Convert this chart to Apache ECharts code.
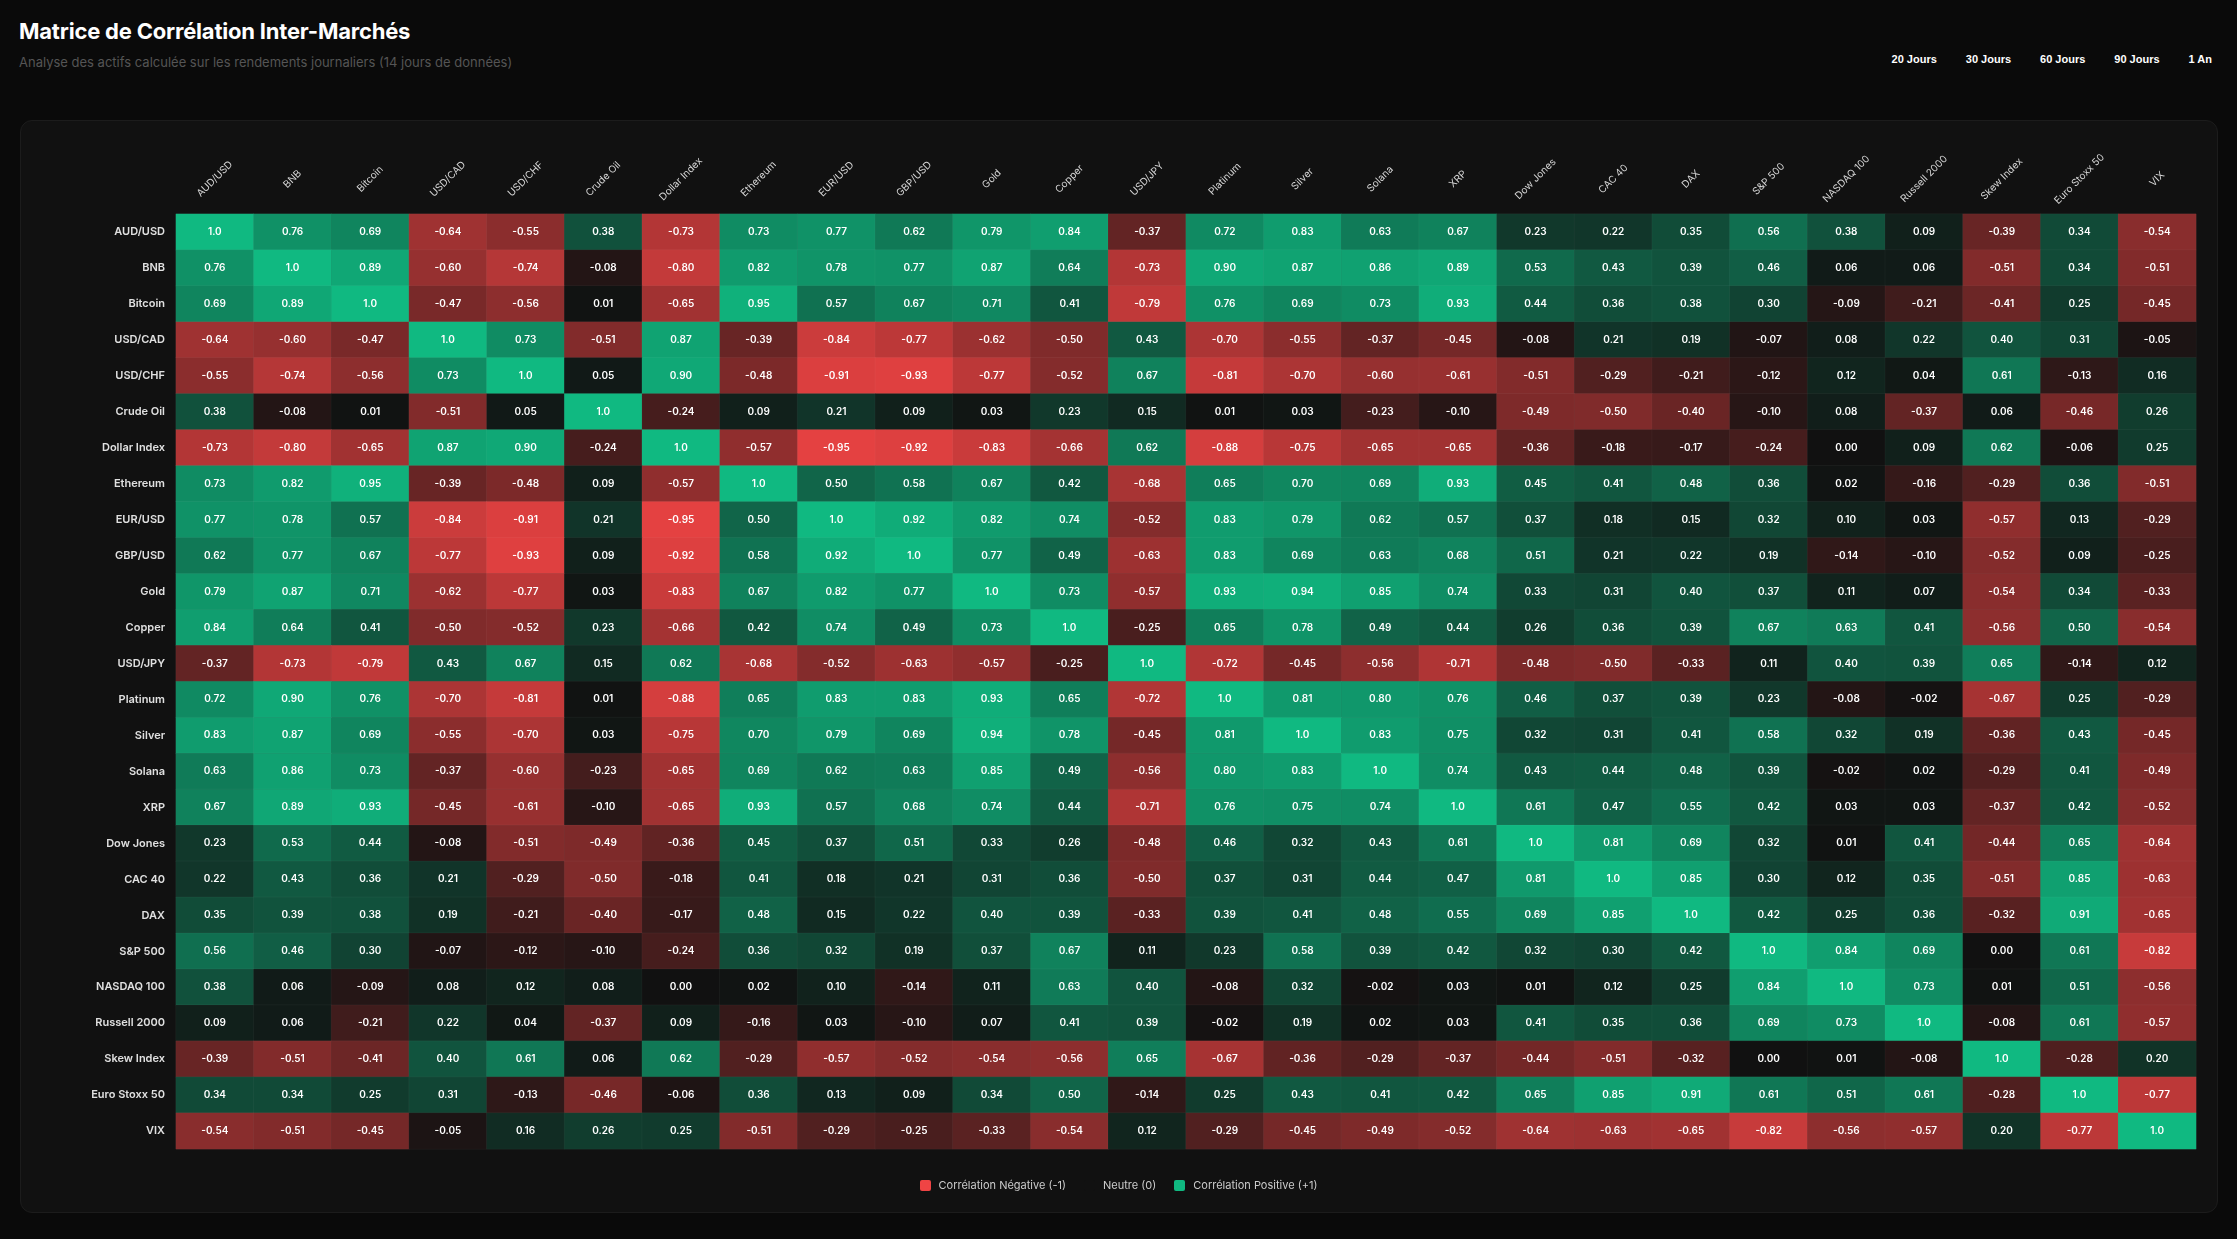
<!DOCTYPE html>
<html lang="fr">
<head>
<meta charset="utf-8">
<title>Matrice de Corrélation Inter-Marchés</title>
<script src="https://cdn.jsdelivr.net/npm/echarts@6/dist/echarts.min.js"></script>
<style>
  html, body { margin: 0; padding: 0; background: #0a0a0a; width: 2237px; height: 1239px; overflow: hidden; font-family: Inter, "Noto Sans", sans-serif; }
  .title { position: absolute; left: 19px; top: 18px; color: #fff; font-size: 22px; font-weight: 700; letter-spacing: -0.2px; }
  .subtitle { position: absolute; left: 19px; top: 54px; color: #555; font-size: 13px; }
  .periods { position: absolute; right: 11px; top: 50px; display: flex; }
  .periods span { color: #fff; font-family: "Liberation Sans", Arial, sans-serif; font-weight: 700; font-size: 11px; padding: 3px 14px 3px 15px; }
  .panel { position: absolute; left: 20px; top: 120px; width: 2196px; height: 1091px; background: #111111; border: 1px solid #1c1c1c; border-radius: 12px; }
  #chart { position: absolute; left: 0; top: 0; width: 2237px; height: 1239px; }
  .legend { position: absolute; left: 0; width: 2237px; top: 1178px; display: flex; justify-content: center; align-items: center; font-size: 11px; color: #ccc; }
  .legend .item { display: flex; align-items: center; margin: 0 9px; }
  .legend .sq { width: 11px; height: 11px; border-radius: 2px; margin-right: 8px; }
</style>
</head>
<body>
<div class="title">Matrice de Corrélation Inter-Marchés</div>
<div class="subtitle">Analyse des actifs calculée sur les rendements journaliers (14 jours de données)</div>
<div class="periods"><span>20 Jours</span><span>30 Jours</span><span>60 Jours</span><span>90 Jours</span><span>1 An</span></div>
<div class="panel"></div>
<div id="chart"></div>
<div class="legend">
  <div class="item"><div class="sq" style="background:#ef4444"></div>Corrélation Négative (-1)</div>
  <div class="item"><div class="sq" style="background:#111111"></div>Neutre (0)</div>
  <div class="item"><div class="sq" style="background:#10b981"></div>Corrélation Positive (+1)</div>
</div>
<script>
const assets = ["AUD/USD", "BNB", "Bitcoin", "USD/CAD", "USD/CHF", "Crude Oil", "Dollar Index", "Ethereum",
  "EUR/USD", "GBP/USD", "Gold", "Copper", "USD/JPY", "Platinum", "Silver", "Solana", "XRP", "Dow Jones",
  "CAC 40", "DAX", "S&P 500", "NASDAQ 100", "Russell 2000", "Skew Index", "Euro Stoxx 50", "VIX"];

// une ligne par actif, même ordre que assets
const matrix = [
  [1.0, 0.76, 0.69, -0.64, -0.55, 0.38, -0.73, 0.73, 0.77, 0.62, 0.79, 0.84, -0.37, 0.72, 0.83, 0.63, 0.67, 0.23, 0.22, 0.35, 0.56, 0.38, 0.09, -0.39, 0.34, -0.54],
  [0.76, 1.0, 0.89, -0.60, -0.74, -0.08, -0.80, 0.82, 0.78, 0.77, 0.87, 0.64, -0.73, 0.90, 0.87, 0.86, 0.89, 0.53, 0.43, 0.39, 0.46, 0.06, 0.06, -0.51, 0.34, -0.51],
  [0.69, 0.89, 1.0, -0.47, -0.56, 0.01, -0.65, 0.95, 0.57, 0.67, 0.71, 0.41, -0.79, 0.76, 0.69, 0.73, 0.93, 0.44, 0.36, 0.38, 0.30, -0.09, -0.21, -0.41, 0.25, -0.45],
  [-0.64, -0.60, -0.47, 1.0, 0.73, -0.51, 0.87, -0.39, -0.84, -0.77, -0.62, -0.50, 0.43, -0.70, -0.55, -0.37, -0.45, -0.08, 0.21, 0.19, -0.07, 0.08, 0.22, 0.40, 0.31, -0.05],
  [-0.55, -0.74, -0.56, 0.73, 1.0, 0.05, 0.90, -0.48, -0.91, -0.93, -0.77, -0.52, 0.67, -0.81, -0.70, -0.60, -0.61, -0.51, -0.29, -0.21, -0.12, 0.12, 0.04, 0.61, -0.13, 0.16],
  [0.38, -0.08, 0.01, -0.51, 0.05, 1.0, -0.24, 0.09, 0.21, 0.09, 0.03, 0.23, 0.15, 0.01, 0.03, -0.23, -0.10, -0.49, -0.50, -0.40, -0.10, 0.08, -0.37, 0.06, -0.46, 0.26],
  [-0.73, -0.80, -0.65, 0.87, 0.90, -0.24, 1.0, -0.57, -0.95, -0.92, -0.83, -0.66, 0.62, -0.88, -0.75, -0.65, -0.65, -0.36, -0.18, -0.17, -0.24, 0.00, 0.09, 0.62, -0.06, 0.25],
  [0.73, 0.82, 0.95, -0.39, -0.48, 0.09, -0.57, 1.0, 0.50, 0.58, 0.67, 0.42, -0.68, 0.65, 0.70, 0.69, 0.93, 0.45, 0.41, 0.48, 0.36, 0.02, -0.16, -0.29, 0.36, -0.51],
  [0.77, 0.78, 0.57, -0.84, -0.91, 0.21, -0.95, 0.50, 1.0, 0.92, 0.82, 0.74, -0.52, 0.83, 0.79, 0.62, 0.57, 0.37, 0.18, 0.15, 0.32, 0.10, 0.03, -0.57, 0.13, -0.29],
  [0.62, 0.77, 0.67, -0.77, -0.93, 0.09, -0.92, 0.58, 0.92, 1.0, 0.77, 0.49, -0.63, 0.83, 0.69, 0.63, 0.68, 0.51, 0.21, 0.22, 0.19, -0.14, -0.10, -0.52, 0.09, -0.25],
  [0.79, 0.87, 0.71, -0.62, -0.77, 0.03, -0.83, 0.67, 0.82, 0.77, 1.0, 0.73, -0.57, 0.93, 0.94, 0.85, 0.74, 0.33, 0.31, 0.40, 0.37, 0.11, 0.07, -0.54, 0.34, -0.33],
  [0.84, 0.64, 0.41, -0.50, -0.52, 0.23, -0.66, 0.42, 0.74, 0.49, 0.73, 1.0, -0.25, 0.65, 0.78, 0.49, 0.44, 0.26, 0.36, 0.39, 0.67, 0.63, 0.41, -0.56, 0.50, -0.54],
  [-0.37, -0.73, -0.79, 0.43, 0.67, 0.15, 0.62, -0.68, -0.52, -0.63, -0.57, -0.25, 1.0, -0.72, -0.45, -0.56, -0.71, -0.48, -0.50, -0.33, 0.11, 0.40, 0.39, 0.65, -0.14, 0.12],
  [0.72, 0.90, 0.76, -0.70, -0.81, 0.01, -0.88, 0.65, 0.83, 0.83, 0.93, 0.65, -0.72, 1.0, 0.81, 0.80, 0.76, 0.46, 0.37, 0.39, 0.23, -0.08, -0.02, -0.67, 0.25, -0.29],
  [0.83, 0.87, 0.69, -0.55, -0.70, 0.03, -0.75, 0.70, 0.79, 0.69, 0.94, 0.78, -0.45, 0.81, 1.0, 0.83, 0.75, 0.32, 0.31, 0.41, 0.58, 0.32, 0.19, -0.36, 0.43, -0.45],
  [0.63, 0.86, 0.73, -0.37, -0.60, -0.23, -0.65, 0.69, 0.62, 0.63, 0.85, 0.49, -0.56, 0.80, 0.83, 1.0, 0.74, 0.43, 0.44, 0.48, 0.39, -0.02, 0.02, -0.29, 0.41, -0.49],
  [0.67, 0.89, 0.93, -0.45, -0.61, -0.10, -0.65, 0.93, 0.57, 0.68, 0.74, 0.44, -0.71, 0.76, 0.75, 0.74, 1.0, 0.61, 0.47, 0.55, 0.42, 0.03, 0.03, -0.37, 0.42, -0.52],
  [0.23, 0.53, 0.44, -0.08, -0.51, -0.49, -0.36, 0.45, 0.37, 0.51, 0.33, 0.26, -0.48, 0.46, 0.32, 0.43, 0.61, 1.0, 0.81, 0.69, 0.32, 0.01, 0.41, -0.44, 0.65, -0.64],
  [0.22, 0.43, 0.36, 0.21, -0.29, -0.50, -0.18, 0.41, 0.18, 0.21, 0.31, 0.36, -0.50, 0.37, 0.31, 0.44, 0.47, 0.81, 1.0, 0.85, 0.30, 0.12, 0.35, -0.51, 0.85, -0.63],
  [0.35, 0.39, 0.38, 0.19, -0.21, -0.40, -0.17, 0.48, 0.15, 0.22, 0.40, 0.39, -0.33, 0.39, 0.41, 0.48, 0.55, 0.69, 0.85, 1.0, 0.42, 0.25, 0.36, -0.32, 0.91, -0.65],
  [0.56, 0.46, 0.30, -0.07, -0.12, -0.10, -0.24, 0.36, 0.32, 0.19, 0.37, 0.67, 0.11, 0.23, 0.58, 0.39, 0.42, 0.32, 0.30, 0.42, 1.0, 0.84, 0.69, 0.00, 0.61, -0.82],
  [0.38, 0.06, -0.09, 0.08, 0.12, 0.08, 0.00, 0.02, 0.10, -0.14, 0.11, 0.63, 0.40, -0.08, 0.32, -0.02, 0.03, 0.01, 0.12, 0.25, 0.84, 1.0, 0.73, 0.01, 0.51, -0.56],
  [0.09, 0.06, -0.21, 0.22, 0.04, -0.37, 0.09, -0.16, 0.03, -0.10, 0.07, 0.41, 0.39, -0.02, 0.19, 0.02, 0.03, 0.41, 0.35, 0.36, 0.69, 0.73, 1.0, -0.08, 0.61, -0.57],
  [-0.39, -0.51, -0.41, 0.40, 0.61, 0.06, 0.62, -0.29, -0.57, -0.52, -0.54, -0.56, 0.65, -0.67, -0.36, -0.29, -0.37, -0.44, -0.51, -0.32, 0.00, 0.01, -0.08, 1.0, -0.28, 0.20],
  [0.34, 0.34, 0.25, 0.31, -0.13, -0.46, -0.06, 0.36, 0.13, 0.09, 0.34, 0.50, -0.14, 0.25, 0.43, 0.41, 0.42, 0.65, 0.85, 0.91, 0.61, 0.51, 0.61, -0.28, 1.0, -0.77],
  [-0.54, -0.51, -0.45, -0.05, 0.16, 0.26, 0.25, -0.51, -0.29, -0.25, -0.33, -0.54, 0.12, -0.29, -0.45, -0.49, -0.52, -0.64, -0.63, -0.65, -0.82, -0.56, -0.57, 0.20, -0.77, 1.0]
];

const negColor = "#ef4444";
const neutralColor = "#111111";
const posColor = "#10b981";

var data = [];
matrix.forEach(function (row, y) {
  row.forEach(function (v, x) {
    data.push([x, y, v]);
  });
});

var chart = echarts.init(document.getElementById("chart"));
var option = {
  backgroundColor: "transparent",
  animation: false,
  grid: {
    left: 176,
    top: 214,
    width: 2020,
    height: 935,
  },
  xAxis: {
    type: "category",
    position: "top",
    data: assets,
    axisLine: { show: false },
    axisTick: { show: false },
    splitArea: { show: false },
    axisLabel: {
      rotate: -45,
      align: "center",
      verticalAlign: "middle",
      margin: 35,
      interval: 0,
      color: "#d6d6d6",
      fontSize: 10,
      fontFamily: "Inter",
    },
  },
  yAxis: {
    type: "category",
    inverse: true,
    data: assets,
    axisLine: { show: false },
    axisTick: { show: false },
    splitArea: { show: false },
    axisLabel: {
      interval: 0,
      margin: 11,
      color: "#e0e0e0",
      fontSize: 11,
      fontWeight: 600,
      fontFamily: "Inter",
    },
  },
  visualMap: {
    show: false,
    min: -1,
    max: 1,
    calculable: false,
    inRange: {
      color: [negColor, neutralColor, posColor],
    },
  },
  series: [
    {
      type: "heatmap",
      data: data,
      itemStyle: {
        borderColor: "rgba(255,255,255,0.04)",
        borderWidth: 1,
      },
      label: {
        show: true,
        color: "#ffffff",
        fontSize: 10,
        fontWeight: 600,
        fontFamily: "Inter",
        formatter: function (p) {
          var v = p.value[2];
          return v === 1 ? "1.0" : v.toFixed(2);
        },
      },
      emphasis: { disabled: true },
    },
  ],
};
chart.setOption(option);
</script>
</body>
</html>
